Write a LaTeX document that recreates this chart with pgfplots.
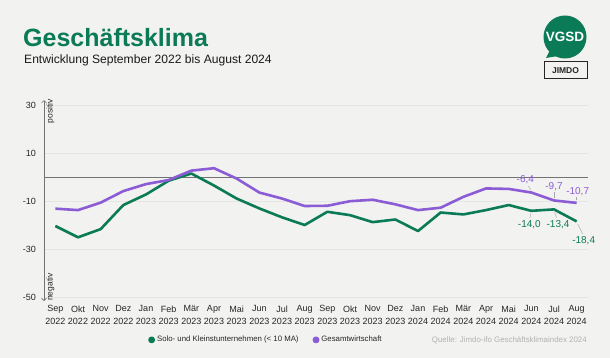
\documentclass[border=0pt]{standalone}
\usepackage{fontspec}
\setmainfont{Liberation Sans}
\usepackage{pgfplots}
\pgfplotsset{compat=1.18}
\usetikzlibrary{arrows.meta}
\definecolor{bg}{HTML}{F2F2F0}
\definecolor{vg}{HTML}{0B7A56}
\definecolor{vp}{HTML}{8B5CD6}
\begin{document}
\begin{tikzpicture}[x=1pt,y=1pt]
\useasboundingbox (0,0) rectangle (610,358);
\fill[bg] (0,0) rectangle (610,358);
\node[anchor=base west, inner sep=0, font=\fontsize{25}{25}\selectfont\bfseries, text=vg] at (23,311) {Geschäftsklima};
\node[anchor=base west, inner sep=0, font=\fontsize{12.1}{12.1}\selectfont, text=black!90] at (24,294) {Entwicklung September 2022 bis August 2024};
% logos
\fill[vg] (565,321) circle (21.5);
\fill[vg] (550,308) -- (546,300) -- (558,302) -- cycle;
\node[white, inner sep=0, font=\bfseries\fontsize{13.5}{13.5}\selectfont] at (565,321) {VGSD};
\draw[black!85, line width=1pt] (544,279) rectangle (587,296);
\node[inner sep=0, font=\bfseries\fontsize{8.5}{8.5}\selectfont, text=black!85] at (565.5,287.5) {JIMDO};
\node[anchor=base east, inner sep=0, font=\fontsize{7.9}{7.9}\selectfont, text=black!30] at (587,15) {Quelle: Jimdo-ifo Geschäftsklimaindex 2024};
\begin{axis}[
  at={(44pt,56.9pt)}, anchor=south west, scale only axis,
  width=544pt, height=201pt,
  xmin=-0.5, xmax=23.5, ymin=-51.5, ymax=32,
  axis lines*=left,
  x axis line style={draw=none},
  y axis line style={draw=black!55, line width=0.6pt, {Straight Barb[length=2.5pt,width=5pt]}-{Straight Barb[length=2.5pt,width=5pt]}},
  major tick length=0pt,
  ytick={-50,-30,-10,10,30},
  yticklabels={-50,-30,-10,10,30},
  xtick={0,...,23},
  xticklabels={{Sep\\2022},{Okt\\2022},{Nov\\2022},{Dez\\2022},{Jan\\2023},{Feb\\2023},{Mär\\2023},{Apr\\2023},{Mai\\2023},{Jun\\2023},{Jul\\2023},{Aug\\2023},{Sep\\2023},{Okt\\2023},{Nov\\2023},{Dez\\2023},{Jan\\2024},{Feb\\2024},{Mär\\2024},{Apr\\2024},{Mai\\2024},{Jun\\2024},{Jul\\2024},{Aug\\2024}},
  xticklabel style={align=center, font=\fontsize{9}{12.5}\selectfont, text=black!85, yshift=-1pt},
  yticklabel style={font=\fontsize{9}{12}\selectfont, text=black!85, xshift=-4.5pt},
  ymajorgrids, grid style={black!10, line width=0.6pt},
  legend style={at={(0.408,-0.193)}, anchor=center, draw=none, fill=none, font=\fontsize{7.8}{9}\selectfont, text=black!85},
  legend columns=2,
  legend image code/.code={\fill (0cm,0cm) circle (2.1pt);},
  /tikz/every even column/.append style={column sep=12pt},
  clip=false,
]
\addplot[black!55, line width=0.8pt, forget plot] coordinates {(-0.5,0) (23.5,0)};
\addplot[vg, line width=2.6pt, line join=round] coordinates {
(0,-20.3) (1,-25.0) (2,-21.6) (3,-11.6) (4,-7.2) (5,-1.5) (6,1.5) (7,-3.5) (8,-8.9) (9,-13.0) (10,-16.7) (11,-19.9)
(12,-14.4) (13,-15.8) (14,-18.7) (15,-17.6) (16,-22.4) (17,-14.7) (18,-15.5) (19,-13.7) (20,-11.6) (21,-14.0) (22,-13.4) (23,-18.4)};
\addlegendentry{Solo- und Kleinstunternehmen (< 10 MA)}
\addplot[vp, line width=2.6pt, line join=round] coordinates {
(0,-13.1) (1,-13.7) (2,-10.6) (3,-5.8) (4,-2.9) (5,-1.2) (6,2.7) (7,3.7) (8,-0.6) (9,-6.4) (10,-8.9) (11,-12.0)
(12,-11.9) (13,-10.0) (14,-9.4) (15,-11.3) (16,-13.7) (17,-12.7) (18,-8.2) (19,-4.7) (20,-4.9) (21,-6.4) (22,-9.7) (23,-10.7)};
\addlegendentry{Gesamtwirtschaft}
% rotated axis notes
\node[rotate=90, anchor=east, inner sep=0, font=\fontsize{8.5}{8.5}\selectfont, text=black!85] at (axis cs:-0.5,32.5) [yshift=-6.5pt] {positiv};
\node[rotate=90, anchor=west, inner sep=0, font=\fontsize{8.5}{8.5}\selectfont, text=black!85] at (axis cs:-0.5,-51.5) [yshift=-6.5pt] {negativ};
% data labels
\draw[black!35, line width=0.4pt] (axis cs:21,-6.4) ++(-0.5pt,2.5pt) -- ++(-2.5pt,4pt);
\draw[black!35, line width=0.4pt] (axis cs:22,-9.7) ++(0pt,2.5pt) -- ++(0pt,6pt);
\draw[black!35, line width=0.4pt] (axis cs:23,-10.7) ++(0pt,2.5pt) -- ++(0pt,3pt);
\node[text=vp, font=\fontsize{10}{10}\selectfont] at (axis cs:21,-6.4) [xshift=-6pt, yshift=12.5pt] {-6,4};
\node[text=vp, font=\fontsize{10}{10}\selectfont] at (axis cs:22,-9.7) [xshift=0pt, yshift=14pt] {-9,7};
\node[text=vp, font=\fontsize{10}{10}\selectfont] at (axis cs:23,-10.7) [xshift=1pt, yshift=11pt] {-10,7};
\draw[black!35, line width=0.4pt] (axis cs:21,-14.0) ++(-0.5pt,-2.5pt) -- ++(-1pt,-5pt);
\draw[black!35, line width=0.4pt] (axis cs:22,-13.4) ++(0.5pt,-2.5pt) -- ++(2pt,-6pt);
\draw[black!35, line width=0.4pt] (axis cs:23,-18.4) ++(1pt,-2.5pt) -- ++(5pt,-10pt);
\node[text=vg, font=\fontsize{10}{10}\selectfont] at (axis cs:21,-14.0) [xshift=-2pt, yshift=-14.3pt] {-14,0};
\node[text=vg, font=\fontsize{10}{10}\selectfont] at (axis cs:22,-13.4) [xshift=4pt, yshift=-15.7pt] {-13,4};
\node[text=vg, font=\fontsize{10}{10}\selectfont] at (axis cs:23,-18.4) [xshift=7pt, yshift=-19.7pt] {-18,4};
\end{axis}
\end{tikzpicture}
\end{document}
